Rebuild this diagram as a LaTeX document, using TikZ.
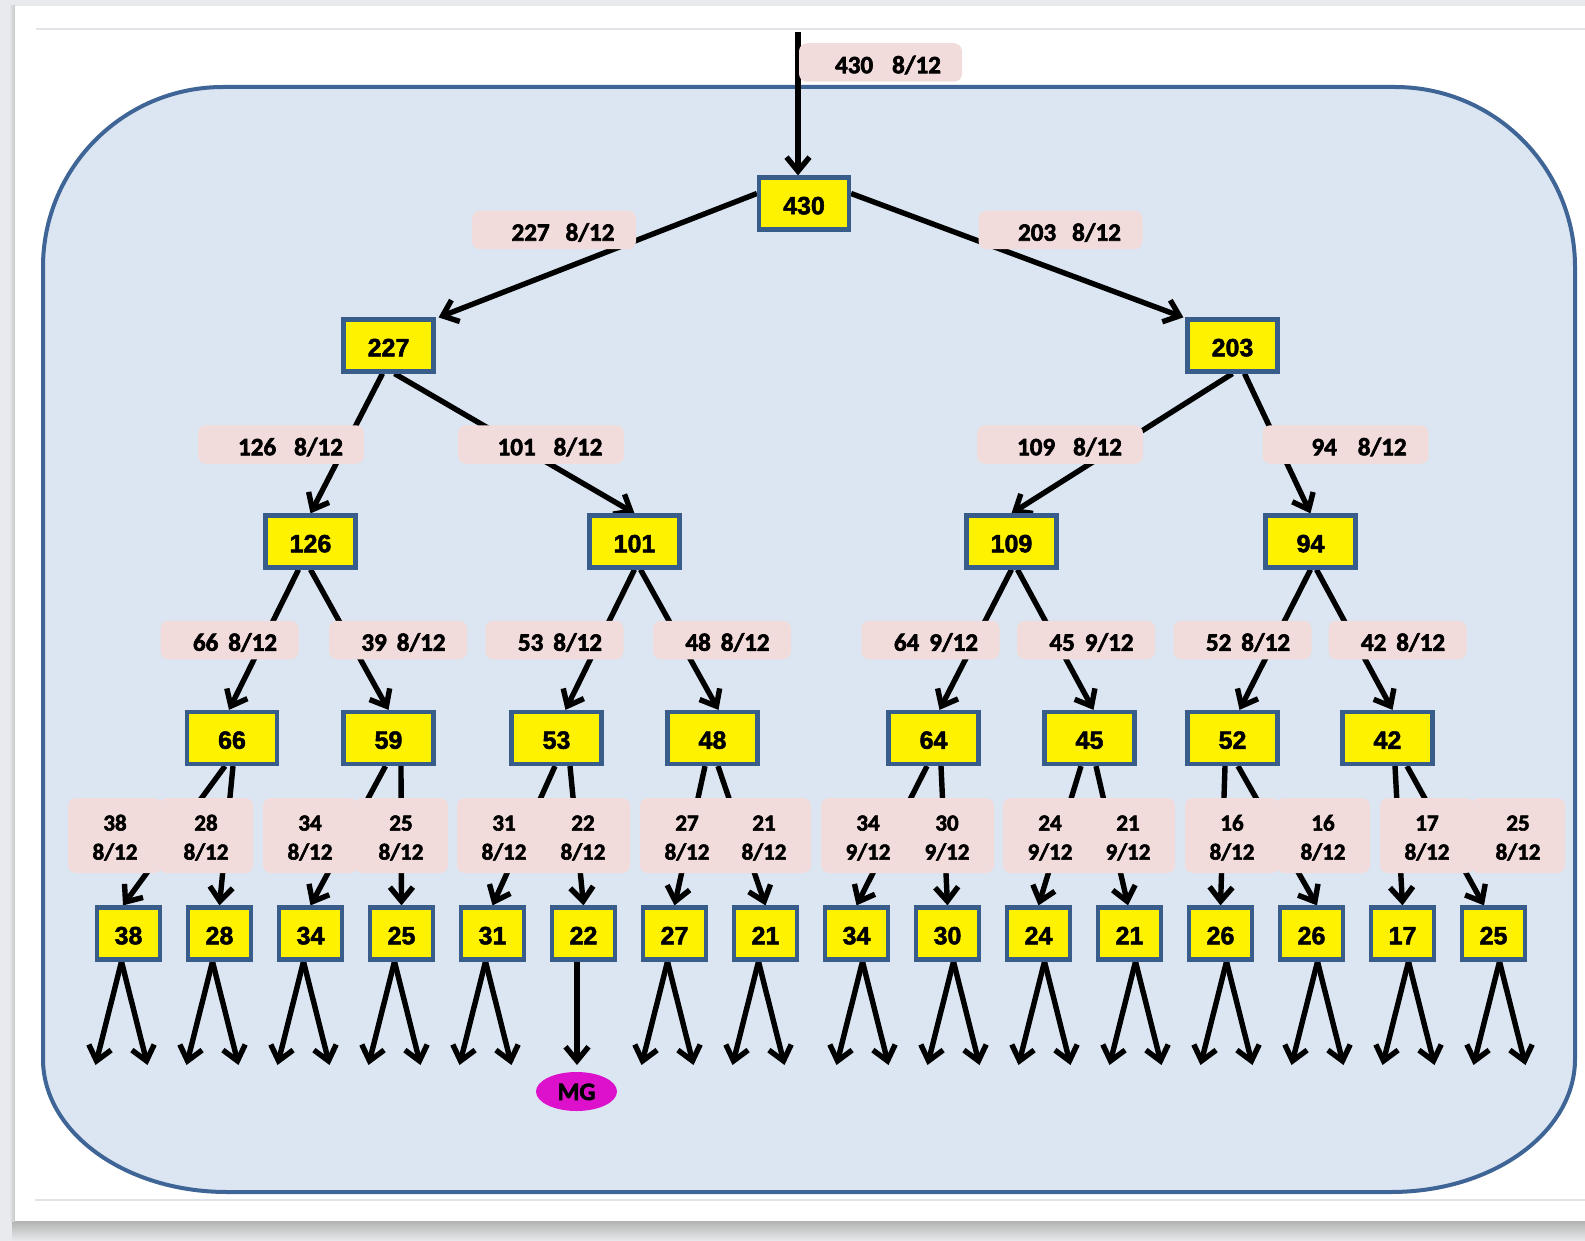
\documentclass[tikz,border=0pt]{standalone}
\usepackage{fontspec}
\newfontfamily\labfont{Carlito}[BoldFeatures={FakeBold=2.5}]
\newfontfamily\boxfont{Liberation Sans}[BoldFeatures={FakeBold=2}]
\usetikzlibrary{arrows.meta,calc,shapes.geometric}
\definecolor{pagebg}{HTML}{E8EAEE}
\definecolor{panel}{HTML}{DCE6F2}
\definecolor{panelline}{HTML}{3F6597}
\definecolor{boxline}{HTML}{385D8A}
\definecolor{lpink}{HTML}{F2DCDB}
\definecolor{mgcol}{HTML}{DD11CC}
\definecolor{rulecol}{HTML}{E0E3E8}
\pgfdeclarelayer{bg}
\pgfdeclarelayer{edges}
\pgfsetlayers{bg,edges,main}
\newcommand\twoline[2]{\raisebox{-10pt}[0pt][0pt]{\begin{tabular}{@{}c@{}}#1\\#2\end{tabular}}}
\begin{document}
\begin{tikzpicture}[x=1pt,y=-1pt,
  nb/.style={draw=boxline, line width=4.2pt, fill=yellow, minimum width=90pt, minimum height=52pt, inner sep=0pt, text height=21.5pt, text depth=0pt, font=\boxfont\bfseries\fontsize{25}{29}\selectfont},
  nl/.style={nb, minimum width=63pt},
  lab/.style={fill=lpink, rounded corners=8pt, inner sep=0pt, minimum height=38.5pt, text height=21.5pt, text depth=0pt, font=\labfont\bfseries\fontsize{25}{30}\selectfont},
  lab4/.style={fill=lpink, rounded corners=8pt, inner sep=0pt, minimum width=94pt, minimum height=75pt, font=\labfont\bfseries\fontsize{23}{29}\selectfont},
  conn/.style={line width=5.4pt, -{Straight Barb[length=14pt,width=23pt]}},
  mgnode/.style={ellipse, fill=mgcol, minimum width=81pt, minimum height=39pt, inner sep=0pt, text height=17pt, text depth=0pt, font=\labfont\bfseries\fontsize{25}{28}\selectfont}
]
\useasboundingbox (0,0) rectangle (1585,1241);
\begin{pgfonlayer}{bg}
  \fill[pagebg] (0,0) rectangle (1585,1241);
  \shade[top color=gray!60, bottom color=pagebg] (12,1221) rectangle (1585,1241);
  \shade[left color=pagebg, right color=gray!45] (9,6) rectangle (15,1221);
  \fill[white] (15,6) rectangle (1585,1221);
  \draw[rulecol, line width=2pt] (36,29) -- (1585,29);
  \draw[rulecol, line width=2pt] (35,1200) -- (1585,1200);
  \filldraw[fill=panel, draw=panelline, line width=4pt]
    (223,87) -- (1395,87)
    .. controls (1494.4,87) and (1575,167.6) .. (1575,267)
    -- (1575,1059)
    .. controls (1575,1132.5) and (1492.6,1192) .. (1391,1192)
    -- (227,1192)
    .. controls (125.4,1192) and (43,1132.5) .. (43,1059)
    -- (43,267)
    .. controls (43,167.6) and (123.6,87) .. (223,87) -- cycle;
\end{pgfonlayer}

% labels
\node[lab, minimum width=163pt] (l430) at (880.5,62.5) {\hspace*{15pt}430\hspace{19pt}8/12};
\node[lab, minimum width=164pt] (l227) at (554,230) {\hspace*{18pt}227\hspace{16pt}8/12};
\node[lab, minimum width=164pt] (l203) at (1060.5,230) {\hspace*{18pt}203\hspace{16pt}8/12};
\node[lab, minimum width=166pt] (l126) at (281,444.5) {\hspace*{19pt}126\hspace{18pt}8/12};
\node[lab, minimum width=166pt] (l101) at (541,444.5) {\hspace*{18pt}101\hspace{18pt}8/12};
\node[lab, minimum width=166pt] (l109) at (1060,444.5) {\hspace*{19pt}109\hspace{18pt}8/12};
\node[lab, minimum width=166pt] (l94) at (1345.5,444.5) {\hspace*{27pt}94\hspace{21pt}8/12};
\node[lab, minimum width=138pt] (l66) at (229.5,640) {\hspace*{11pt}66\hspace{10pt}8/12};
\node[lab, minimum width=138pt] (l39) at (398,640) {\hspace*{11pt}39\hspace{10pt}8/12};
\node[lab, minimum width=138pt] (l53) at (554.5,640) {\hspace*{11pt}53\hspace{10pt}8/12};
\node[lab, minimum width=138pt] (l48) at (722,640) {\hspace*{11pt}48\hspace{10pt}8/12};
\node[lab, minimum width=138pt] (l64) at (930.5,640) {\hspace*{11pt}64\hspace{10pt}9/12};
\node[lab, minimum width=138pt] (l45) at (1086,640) {\hspace*{11pt}45\hspace{10pt}9/12};
\node[lab, minimum width=138pt] (l52) at (1242.5,640) {\hspace*{11pt}52\hspace{10pt}8/12};
\node[lab, minimum width=138pt] (l42) at (1397.5,640) {\hspace*{11pt}42\hspace{10pt}8/12};

% boxes
\node[nb] (n430) at (804,203.5) {430};
\node[nb] (n227) at (388.5,345.5) {227};
\node[nb] (n203) at (1232.5,345.5) {203};
\node[nb] (n126) at (310.5,541.5) {126};
\node[nb] (n101) at (634.5,541.5) {101};
\node[nb] (n109) at (1011.5,541.5) {109};
\node[nb] (n94) at (1310.5,541.5) {94};
\node[nb] (n66) at (232,738) {66};
\node[nb] (n59) at (388.5,738) {59};
\node[nb] (n53) at (556.5,738) {53};
\node[nb] (n48) at (712.5,738) {48};
\node[nb] (n64) at (933.5,738) {64};
\node[nb] (n45) at (1089.5,738) {45};
\node[nb] (n52) at (1232.5,738) {52};
\node[nb] (n42) at (1387.5,738) {42};

\foreach \i/\a/\f/\lx in {1/38/8/115, 2/28/8/206, 3/34/8/310, 4/25/8/401,
  5/31/8/504, 6/22/8/583, 7/27/8/687, 8/21/8/764, 9/34/9/868, 10/30/9/947,
  11/24/9/1050, 12/21/9/1128, 13/16/8/1232, 14/16/8/1323, 15/17/8/1427, 16/25/8/1518}{
  \node[lab4] (k\i) at (\lx,835.5) {\twoline{\a}{\f/12}};
}
\foreach \i/\v in {1/38, 2/28, 3/34, 4/25, 5/31, 6/22, 7/27, 8/21, 9/34, 10/30, 11/24, 12/21, 13/26, 14/26, 15/17, 16/25}{
  \node[nl] (m\i) at ({128.5+91*(\i-1)},933.5) {\v};
}
\node[mgnode] (mg) at (576.5,1091.5) {MG};

\coordinate (src) at (798,32);
\coordinate (mgtip) at (577,1065);

\begin{pgfonlayer}{edges}
  \draw[conn] (src) -- ($(n430.north)+(-6,0)$);
  \draw[conn] ($(n430.west)+(0,-10)$) -- ($(n227.north east)+(3,0)$);
  \draw[conn] ($(n430.east)+(0,-10)$) -- ($(n203.north west)+(-2,0)$);
  \draw[conn] ($(n227.south)+(-6,0)$) -- (n126.north);
  \draw[conn] ($(n227.south)+(6,0)$) -- (n101.north);
  \draw[conn] (n203.south) -- (n109.north);
  \draw[conn] ($(n203.south)+(12,0)$) -- (n94.north);
  \draw[conn] ($(n126.south)+(-12,0)$) -- ($(n66.north)+(-3,0)$);
  \draw[conn] (n126.south) -- (n59.north);
  \draw[conn] (n101.south) -- ($(n53.north)+(9,0)$);
  \draw[conn] ($(n101.south)+(6,0)$) -- ($(n48.north)+(6,0)$);
  \draw[conn] (n109.south) -- ($(n64.north)+(6,0)$);
  \draw[conn] ($(n109.south)+(6,0)$) -- ($(n45.north)+(4,0)$);
  \draw[conn] (n94.south) -- ($(n52.north)+(7,0)$);
  \draw[conn] ($(n94.south)+(6,0)$) -- ($(n42.north)+(5,0)$);
  \foreach \p/\po/\c/\co in {n66/-7/m1/-5.5, n66/1/m2/0, n59/-3/m3/0, n59/12.5/m4/0,
     n53/-1.5/m5/0, n53/13.5/m6/0, n48/-7.5/m7/0, n48/5.5/m8/0,
     n64/-6.5/m9/0, n64/7.5/m10/0, n45/-8.5/m11/0, n45/6.5/m12/-1.5,
     n52/-7.5/m13/0, n52/5.5/m14/5.5, n42/7.5/m15/0, n42/19.5/m16/-9.5}{
    \draw[conn] ($(\p.south)+(\po,0)$) -- ($(\c.north)+(\co,0)$);
  }
  \foreach \i in {1,...,16}{
    \ifnum\i=6\relax\else
      \pgfmathsetmacro\off{\i<9 ? -7 : 6}
      \pgfmathsetmacro\sx{128.5+91*(\i-1)+\off}
      \coordinate (ta\i) at (\sx-26,1065);
      \coordinate (tb\i) at (\sx+26,1065);
      \draw[conn] ($(m\i.south)+(\off,0)$) -- (ta\i);
      \draw[conn] ($(m\i.south)+(\off,0)$) -- (tb\i);
    \fi
  }
  \draw[conn] ($(m6.south)+(-6.5,0)$) -- (mgtip);
\end{pgfonlayer}
\end{tikzpicture}
\end{document}
